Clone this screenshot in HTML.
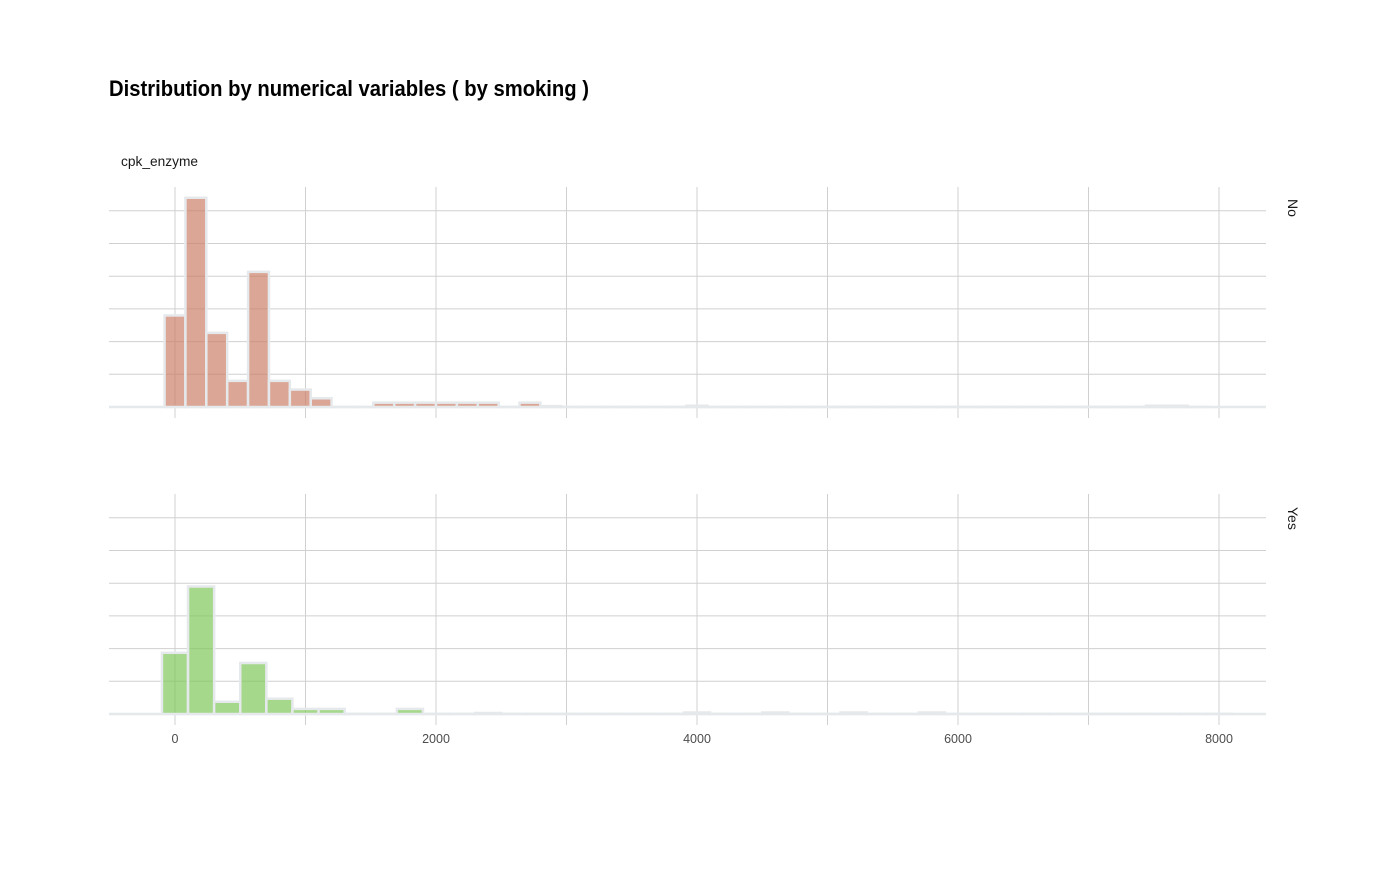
<!DOCTYPE html>
<html><head><meta charset="utf-8"><style>
body{margin:0;background:#fff;}
svg text{font-family:"Liberation Sans Narrow","Liberation Sans",sans-serif;}
</style></head><body>
<svg id="c" width="1400" height="866" xmlns="http://www.w3.org/2000/svg">
<text x="109" y="96" font-size="22" font-weight="bold" fill="#000" textLength="480" lengthAdjust="spacingAndGlyphs">Distribution by numerical variables ( by smoking )</text>
<text x="121" y="166" font-size="14" fill="#1a1a1a" textLength="77" lengthAdjust="spacingAndGlyphs">cpk_enzyme</text>
<g id="plot"></g>
</svg>
<script>
const xTicks=[0,2000,4000,6000,8000];
const binNo=160;
const countsNo=[21,48,17,6,31,6,4,2,0,0,1,1,1,1,1,1,0,1,0.2,0,0,0,0,0,0,0.3,0,0,0,0,0,0,0,0,0,0,0,0,0,0,0,0,0,0,0,0,0,0.3,0.3,0];
const binYes=200;
const countsYes=[12,25,2.4,10,3,1,1,0,0,1,0,0,0.2,0,0,0,0,0,0,0,0.3,0,0,0.3,0,0,0.3,0,0,0.3,0,0,0,0,0,0,0,0,0,0,0];
const facets=['No','Yes'];

const NS='http://www.w3.org/2000/svg';
const g=document.getElementById('plot');
function mk(t,a){const e=document.createElementNS(NS,t);for(const k in a)e.setAttribute(k,a[k]);g.appendChild(e);return e;}
const xs=v=>175+v*0.1305;
const L=109,R=1266;
const panels=[{top:187,bot:418,base:407,k:4.36,bw:binNo,counts:countsNo,fill:'#cc8068',label:facets[0]},
              {top:494,bot:725,base:714,k:5.1,bw:binYes,counts:countsYes,fill:'#7fc85a',label:facets[1]}];
panels.forEach((p,pi)=>{
  for(let i=0;i<7;i++){
    const y=p.base-i*32.7;
    const l=mk('line',{x1:L,x2:R,y1:y,y2:y,stroke:'#d0d0d0','stroke-width':1});
    
    
  }
  for(let v=0;v<=8000;v+=1000){
    const l=mk('line',{x1:xs(v),x2:xs(v),y1:p.top,y2:p.bot,stroke:'#d0d0d0','stroke-width':1});
    
    
  }
  const ln=mk('line',{x1:L,x2:R,y1:p.base,y2:p.base,stroke:'#e6e9ec','stroke-width':2.5});
  
  
  p.counts.forEach((c,i)=>{
    const x0=xs(i*p.bw-p.bw/2), x1=xs(i*p.bw+p.bw/2);
    const h=Math.max(c*p.k,0.1);
    const r=mk('rect',{x:x0,y:p.base-h,width:x1-x0,height:h,fill:p.fill,'fill-opacity':0.7,stroke:'#e6e9ec','stroke-width':2.5});
    
    
  });
  const t=mk('text',{x:1288,y:(pi==0?199:507),'font-size':14,fill:'#1a1a1a',transform:`rotate(90 1288 ${pi==0?199:507})`});
  t.textContent=p.label;
  
  
});
xTicks.forEach(v=>{
  const t=mk('text',{x:xs(v),y:743,'font-size':12.5,fill:'#4d4d4d','text-anchor':'middle'});
  t.textContent=v;
  
  
});
</script>
</body></html>
